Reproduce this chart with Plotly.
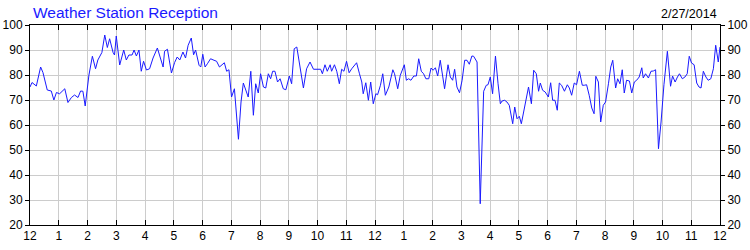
import plotly.graph_objects as go

# Hours since midnight (0..24) and reception percentage
hours = [
    0.00, 0.07, 0.22, 0.37, 0.45, 0.60, 0.74, 0.83, 0.92, 1.03, 1.21, 1.32, 1.44, 1.55, 1.67, 1.76, 1.84, 1.92,
    2.05, 2.17, 2.28, 2.36, 2.50, 2.60, 2.69, 2.77, 2.89, 2.94, 3.00, 3.12, 3.26, 3.35, 3.44, 3.55, 3.62, 3.70,
    3.79, 3.87, 3.95, 4.05, 4.16, 4.28, 4.43, 4.53, 4.63, 4.68, 4.78, 4.92, 5.03, 5.12, 5.21, 5.32, 5.41, 5.50,
    5.61, 5.69, 5.76, 5.88, 5.94,
    6.01, 6.09, 6.17, 6.28, 6.40, 6.49, 6.59, 6.67, 6.76, 6.84, 6.92, 7.01, 7.11, 7.25, 7.34, 7.42, 7.51, 7.59,
    7.68, 7.77, 7.85, 7.94, 8.02, 8.12, 8.20, 8.29, 8.37, 8.44, 8.52, 8.61, 8.70, 8.81, 8.90, 9.02, 9.10, 9.19,
    9.28, 9.37, 9.51, 9.62, 9.74, 9.86, 10.03, 10.11, 10.17, 10.26, 10.34, 10.44, 10.49, 10.59, 10.67, 10.76,
    10.84, 10.92, 11.01, 11.10, 11.19, 11.36, 11.46, 11.54, 11.59, 11.68, 11.77, 11.85, 11.94,
    12.03, 12.09, 12.19, 12.27, 12.36, 12.48, 12.62, 12.68, 12.79, 12.88, 13.02, 13.09, 13.17, 13.25, 13.35,
    13.44, 13.52, 13.61, 13.69, 13.77, 13.87, 13.95, 14.02, 14.10, 14.18, 14.27, 14.42, 14.54, 14.62, 14.70,
    14.77, 14.85, 14.94, 15.03, 15.12, 15.20, 15.28, 15.37, 15.43, 15.55, 15.66, 15.78, 15.87, 15.93, 16.01,
    16.09, 16.19, 16.28, 16.36, 16.42, 16.51, 16.59, 16.67, 16.79, 16.86, 16.94, 17.02, 17.09, 17.21, 17.26,
    17.34, 17.44, 17.52, 17.61, 17.69, 17.75, 17.83, 17.92, 17.98,
    18.03, 18.11, 18.18, 18.26, 18.34, 18.41, 18.49, 18.59, 18.69, 18.76, 18.84, 18.93, 19.01, 19.11, 19.21,
    19.28, 19.36, 19.45, 19.54, 19.62, 19.68, 19.77, 19.85, 19.94, 20.02, 20.12, 20.20, 20.27, 20.37, 20.44,
    20.52, 20.60, 20.67, 20.75, 20.85, 20.93, 21.02, 21.10, 21.19, 21.28, 21.33, 21.41, 21.51, 21.60, 21.68,
    21.76, 21.86, 21.95, 22.05, 22.17, 22.28, 22.35, 22.44, 22.52, 22.59, 22.69, 22.78, 22.86, 22.93, 23.01,
    23.10, 23.19, 23.27, 23.34, 23.42, 23.51, 23.59, 23.68, 23.77, 23.85, 23.94, 24.00,
]
reception = [
    75.2, 77.0, 75.6, 83.2, 81.0, 74.0, 73.6, 70.0, 73.0, 72.5, 74.5, 69.0, 71.0, 72.0, 71.0, 73.6, 73.5, 67.6,
    80.0, 87.5, 82.5, 86.0, 89.0, 96.0, 91.0, 94.5, 89.0, 88.0, 95.6, 84.0, 90.0, 86.0, 88.0, 88.0, 90.0, 87.6,
    90.0, 81.5, 85.5, 82.0, 82.5, 86.8, 90.8, 86.8, 83.2, 89.5, 90.3, 80.8, 85.0, 87.2, 86.0, 89.2, 86.8, 91.9,
    94.8, 88.1, 90.0, 83.9, 83.2,
    88.3, 83.2, 84.5, 86.5, 85.9, 85.5, 83.2, 84.1, 84.9, 81.5, 82.1, 71.2, 74.5, 54.3, 69.2, 76.8, 73.9, 71.2,
    81.5, 63.9, 76.5, 72.8, 80.5, 75.2, 74.8, 80.5, 78.5, 81.5, 81.5, 77.2, 78.5, 74.5, 74.1, 79.6, 76.5, 90.5,
    91.2, 85.2, 74.8, 82.5, 85.2, 82.3, 82.3, 82.3, 80.5, 84.1, 81.5, 84.1, 81.5, 84.1, 81.5, 76.5,
    82.3, 81.5, 85.5, 80.9, 82.5, 84.9, 80.5, 77.2, 72.5, 76.9, 69.9, 77.2, 68.5,
    72.5, 72.1, 75.9, 80.5, 71.9, 75.2, 82.1, 80.5, 74.5, 79.9, 84.1, 77.9, 78.5, 77.9, 79.6,
    79.6, 86.5, 81.5, 80.5, 78.5, 78.5, 82.8, 81.9, 82.9, 79.6, 85.9, 74.5, 84.1, 79.2, 77.9,
    82.3, 75.2, 72.9, 77.9, 85.9, 85.9, 84.3, 87.6, 87.5, 85.2, 28.5, 73.5, 75.9, 76.1, 79.2,
    72.5, 87.6, 76.5, 68.5, 69.6, 69.9, 69.2, 67.9, 60.5, 67.2, 62.5, 63.5, 60.5, 67.9, 69.5,
    75.2, 68.5, 81.9, 80.5, 73.5, 76.8, 73.9, 73.2, 72.1,
    71.2, 76.9, 69.9, 69.9, 65.9, 76.8, 75.9, 73.5, 76.1, 74.8, 71.9, 76.8, 76.1, 81.5, 75.9,
    75.9, 76.1, 71.9, 66.8, 64.5, 79.5, 77.2, 61.2, 67.9, 69.2, 76.5, 83.2, 85.9, 74.8, 78.5,
    76.5, 82.1, 72.8, 77.9, 77.6, 72.8, 77.2, 77.9, 79.2, 82.9, 78.8, 80.5, 78.8, 81.5, 81.6,
    82.1, 50.5, 61.2, 76.1, 89.5, 75.5, 79.6, 77.2, 79.2, 80.5, 78.5, 79.2, 80.5, 87.5, 84.8,
    84.1, 76.8, 75.2, 74.8, 81.5, 79.2, 77.9, 78.5, 82.5, 91.9, 85.2, 91.2,
]

tick_hours = list(range(0, 25))
tick_labels = ["12", "1", "2", "3", "4", "5", "6", "7", "8", "9", "10", "11",
               "12", "1", "2", "3", "4", "5", "6", "7", "8", "9", "10", "11", "12"]
title_text = "Weather Station Reception"
date_text = "2/27/2014"

FONT = "Liberation Sans, Arial, sans-serif"

fig = go.Figure()
fig.add_trace(go.Scatter(x=hours, y=reception, mode="lines",
                         line=dict(color="#1a1aff", width=1), hoverinfo="skip",
                         showlegend=False))
fig.add_trace(go.Scatter(x=hours, y=reception, mode="lines", yaxis="y2",
                         line=dict(color="rgba(0,0,0,0)", width=0), hoverinfo="skip",
                         showlegend=False))

yaxis_common = dict(range=[20, 100], dtick=10, tick0=20, automargin=False,
                    showline=True, linecolor="black", linewidth=1,
                    ticks="outside", ticklen=4, tickcolor="black",
                    tickfont=dict(family=FONT, size=12, color="black"),
                    zeroline=False, fixedrange=True)

fig.update_layout(
    width=750, height=250,
    margin=dict(l=30, r=30, t=25, b=25, pad=0, autoexpand=False),
    paper_bgcolor="white", plot_bgcolor="white",
    xaxis=dict(range=[0, 24], tickmode="array", tickvals=tick_hours, ticktext=tick_labels,
               automargin=False,
               showgrid=True, gridcolor="#cccccc", gridwidth=1,
               showline=True, linecolor="black", linewidth=1, mirror="ticks",
               ticks="inside", ticklen=5, tickcolor="black",
               tickfont=dict(family=FONT, size=12, color="black"),
               zeroline=False),
    yaxis=dict(**yaxis_common, side="left", showgrid=True, gridcolor="#cccccc", gridwidth=1),
    yaxis2=dict(**yaxis_common, side="right", overlaying="y", showgrid=False),
    annotations=[
        dict(text=title_text, xref="paper", yref="paper", x=0, y=1, xshift=1, yshift=2,
             xanchor="left", yanchor="bottom", showarrow=False,
             font=dict(family=FONT, size=15.5, color="#1a1aff")),
        dict(text=date_text, xref="paper", yref="paper", x=1, y=1, xshift=-1, yshift=2,
             xanchor="right", yanchor="bottom", showarrow=False,
             font=dict(family=FONT, size=12.5, color="black")),
    ],
)

fig.write_html("out.html")
